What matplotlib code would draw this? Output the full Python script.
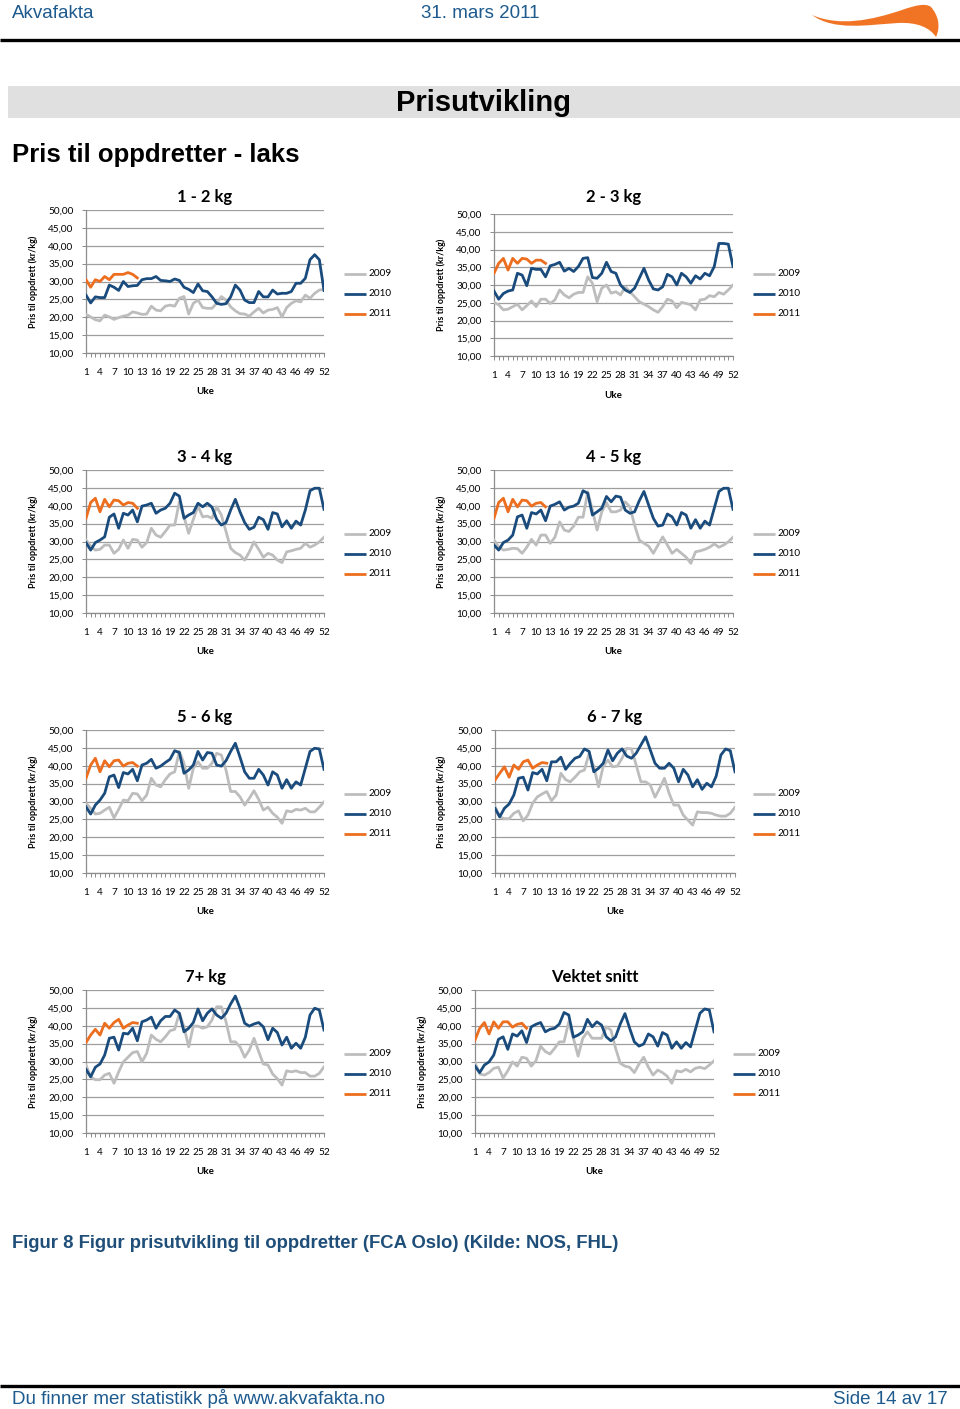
import matplotlib

matplotlib.use("Agg")
import matplotlib.pyplot as plt
import numpy as np
from matplotlib.patches import PathPatch, Rectangle
from matplotlib.path import Path

W, H = 960, 1409

YEARS = ("2009", "2010", "2011")
COLORS = {"2009": "#BDBDBD", "2010": "#1A4B7D", "2011": "#EC6E1E"}
TEXT_BLUE = "#1D5A8E"
CAPTION_BLUE = "#1F4E79"

WEEK_TICKS = list(range(1, 53, 3))
Y_TICKS = [10, 15, 20, 25, 30, 35, 40, 45, 50]

TITLES = ["1 - 2 kg", "2 - 3 kg", "3 - 4 kg", "4 - 5 kg", "5 - 6 kg", "6 - 7 kg", "7+ kg", "Vektet snitt"]

# weekly price to farmer, kr/kg
kg12_2009 = [20.8, 20.1, 19.3, 19.0, 20.6, 20.1, 19.4, 19.9, 20.3, 20.6, 21.5, 21.2, 20.8, 20.9, 23.1, 22.0,
             21.8, 23.1, 23.4, 23.1, 25.3, 25.8, 20.9, 23.9, 24.8, 22.7, 22.5, 22.5, 23.9, 25.8, 24.8, 22.9,
             21.8, 21.0, 20.9, 20.3, 21.5, 22.5, 21.2, 22.0, 22.2, 22.7, 20.1, 22.7, 23.9, 24.6, 24.3, 26.2,
             25.3, 26.7, 27.6, 27.8]
kg12_2010 = [26.2, 24.0, 25.7, 25.5, 25.5, 29.0, 28.4, 27.5, 30.0, 28.6, 28.8, 28.9, 30.5, 30.8, 30.8, 31.4,
             30.3, 30.2, 30.0, 30.7, 30.3, 28.4, 27.8, 26.9, 29.3, 27.4, 27.2, 25.7, 23.9, 23.6, 23.8, 25.7,
             29.0, 27.6, 24.8, 24.1, 24.1, 27.2, 25.7, 25.7, 27.6, 26.5, 26.7, 26.7, 27.2, 29.5, 29.5, 30.9,
             36.1, 37.5, 36.1, 27.5]
kg12_2011 = [30.5, 28.4, 30.5, 30.0, 31.4, 30.5, 32.0, 32.0, 32.0, 32.5, 32.0, 31.0]

kg23_2009 = [25.1, 24.4, 23.0, 23.2, 23.9, 24.6, 23.0, 24.2, 25.5, 23.9, 26.0, 26.0, 24.8, 25.8, 28.6, 27.2,
             26.4, 27.4, 27.9, 27.9, 32.3, 30.5, 25.3, 29.1, 30.0, 27.7, 28.1, 27.2, 29.5, 28.1, 26.7, 25.3,
             24.6, 23.9, 23.0, 22.3, 23.9, 26.0, 25.5, 23.6, 25.1, 24.8, 24.4, 23.0, 25.8, 26.0, 27.0, 26.7,
             27.9, 27.4, 28.6, 30.0]
kg23_2010 = [28.3, 26.0, 27.6, 28.3, 28.6, 33.3, 32.8, 29.8, 34.7, 34.4, 34.4, 32.3, 35.4, 35.8, 36.4, 33.9,
             34.7, 33.8, 35.2, 37.5, 37.7, 32.1, 31.9, 33.3, 36.4, 33.8, 33.3, 30.0, 28.6, 27.9, 29.1, 31.9,
             34.7, 31.4, 28.9, 28.6, 29.5, 33.0, 32.3, 30.0, 33.3, 32.3, 30.5, 32.6, 31.7, 33.3, 32.6, 35.2,
             41.7, 41.7, 41.5, 35.2]
kg23_2011 = [33.3, 36.1, 37.5, 34.2, 37.5, 36.1, 37.5, 37.3, 36.1, 37.0, 37.0, 36.1]

kg34_2009 = [30.4, 28.7, 27.6, 27.8, 29.0, 29.0, 26.7, 27.8, 30.4, 28.1, 30.6, 30.4, 28.4, 29.7, 33.7, 31.8,
             31.2, 32.8, 34.6, 34.6, 41.1, 36.9, 32.3, 36.2, 39.9, 36.9, 37.1, 36.5, 39.7, 37.4, 32.8, 28.1,
             26.9, 26.2, 24.8, 27.1, 29.9, 27.8, 25.6, 26.7, 26.2, 24.8, 24.1, 27.1, 27.4, 27.8, 28.1, 29.5,
             28.4, 29.0, 29.9, 31.2]
kg34_2010 = [29.7, 27.6, 29.7, 30.4, 31.3, 36.8, 37.7, 33.7, 37.9, 37.4, 38.8, 35.5, 39.9, 40.2, 40.7, 37.9,
             38.8, 39.3, 40.7, 43.5, 42.7, 36.5, 37.4, 38.1, 40.7, 39.7, 40.7, 39.6, 36.2, 34.6, 35.3, 38.8,
             41.8, 38.3, 35.3, 33.4, 34.0, 36.8, 36.1, 33.4, 38.1, 37.7, 34.1, 35.8, 33.7, 35.7, 34.6, 38.8,
             44.2, 44.9, 44.9, 39.0]
kg34_2011 = [36.5, 40.9, 42.1, 38.3, 41.8, 39.7, 41.6, 41.4, 40.2, 40.9, 40.7, 39.3]

kg45_2009 = [30.4, 28.5, 27.6, 27.8, 28.1, 28.0, 26.7, 28.4, 30.6, 29.0, 31.8, 31.8, 29.5, 31.2, 35.5, 33.2,
             32.8, 34.3, 36.8, 36.8, 43.9, 38.8, 33.2, 38.3, 40.9, 38.3, 38.3, 38.8, 41.1, 39.7, 34.6, 30.4,
             29.5, 28.7, 26.7, 29.0, 31.3, 29.0, 26.7, 27.8, 26.7, 25.6, 23.9, 27.1, 27.4, 27.8, 28.4, 29.3,
             28.4, 29.0, 29.9, 31.2]
kg45_2010 = [29.0, 27.6, 29.7, 30.4, 31.8, 36.9, 37.4, 33.7, 38.1, 37.7, 38.8, 35.8, 39.9, 40.4, 41.1, 38.8,
             39.6, 39.9, 40.7, 44.2, 43.5, 37.4, 38.3, 39.3, 42.6, 41.1, 42.7, 42.4, 38.8, 37.9, 38.3, 41.4,
             44.0, 40.2, 36.5, 34.3, 34.6, 37.7, 36.9, 34.6, 38.1, 37.4, 33.7, 36.1, 33.7, 35.7, 34.6, 39.3,
             44.0, 44.9, 44.9, 39.0]
kg45_2011 = [36.5, 40.9, 42.1, 38.3, 41.8, 39.7, 41.6, 41.4, 39.9, 40.7, 40.9, 39.7]

kg56_2009 = [29.5, 28.1, 26.5, 26.7, 27.6, 28.4, 25.4, 27.8, 30.4, 30.2, 32.3, 32.1, 30.2, 31.8, 36.5, 34.6,
             34.1, 36.1, 37.7, 38.3, 44.0, 40.7, 33.7, 39.3, 41.1, 39.3, 39.3, 40.7, 43.5, 43.0, 38.8, 32.8,
             32.8, 31.3, 29.0, 30.9, 33.0, 30.6, 27.6, 28.4, 26.7, 25.6, 23.9, 27.4, 27.1, 27.8, 27.6, 28.1,
             27.1, 27.1, 28.4, 29.9]
kg56_2010 = [28.5, 26.5, 29.0, 30.4, 32.3, 36.9, 37.4, 33.9, 38.1, 37.7, 39.0, 35.8, 40.2, 40.7, 41.8, 39.3,
             39.9, 40.9, 41.8, 44.2, 43.7, 37.9, 38.8, 40.2, 44.0, 41.6, 43.7, 43.5, 40.2, 39.9, 41.4, 44.0,
             46.3, 42.4, 38.3, 36.5, 36.5, 39.0, 37.4, 34.6, 38.3, 37.4, 33.7, 36.1, 33.7, 35.5, 34.6, 39.3,
             44.0, 44.9, 44.7, 39.0]
kg56_2011 = [36.5, 40.2, 42.1, 38.3, 41.4, 39.7, 41.4, 41.6, 39.9, 40.7, 40.9, 39.9]

kg67_2009 = [28.6, 25.7, 25.2, 25.2, 26.7, 27.4, 24.6, 26.2, 29.5, 31.3, 32.1, 32.8, 30.2, 31.8, 37.9, 36.1,
             35.5, 36.8, 38.3, 38.8, 43.5, 39.7, 34.1, 39.9, 41.6, 39.7, 39.9, 42.1, 44.9, 44.7, 40.2, 35.5,
             35.5, 34.6, 31.2, 33.7, 36.5, 32.3, 29.0, 29.0, 26.2, 24.8, 23.4, 27.1, 26.9, 26.9, 26.7, 26.2,
             25.9, 25.9, 26.7, 28.4]
kg67_2010 = [28.1, 25.7, 28.1, 29.3, 31.8, 36.5, 36.8, 33.2, 38.1, 37.7, 39.0, 35.8, 41.1, 41.1, 42.4, 39.0,
             40.7, 42.1, 42.6, 44.7, 44.0, 38.3, 39.3, 40.7, 44.4, 41.4, 43.5, 44.7, 42.7, 42.1, 43.5, 45.8,
             48.1, 44.4, 40.7, 39.3, 39.3, 40.7, 39.3, 35.5, 39.0, 37.4, 34.1, 36.1, 33.4, 35.1, 34.1, 37.1,
             43.0, 44.7, 44.2, 38.3]
kg67_2011 = [36.0, 37.9, 39.7, 36.8, 40.2, 39.0, 41.1, 41.6, 39.3, 40.2, 40.9, 40.7]

kg7p_2009 = [29.0, 25.7, 24.9, 24.9, 26.2, 26.7, 23.9, 27.1, 29.9, 31.2, 32.5, 32.8, 29.9, 32.3, 37.4, 36.2,
             35.5, 36.9, 38.6, 39.0, 43.5, 39.7, 34.1, 39.9, 39.9, 39.3, 39.7, 41.6, 45.3, 45.3, 41.1, 35.5,
             35.5, 34.1, 31.2, 33.2, 36.5, 32.8, 29.3, 29.0, 26.5, 25.2, 23.4, 27.4, 27.1, 27.4, 26.9, 26.9,
             25.9, 25.9, 26.7, 28.5]
kg7p_2010 = [27.8, 25.7, 28.4, 29.3, 31.8, 36.5, 36.8, 33.2, 37.9, 37.7, 39.3, 35.8, 41.1, 41.6, 42.4, 39.3,
             41.4, 42.6, 42.6, 44.4, 43.5, 38.3, 39.3, 40.9, 44.7, 41.4, 43.5, 44.7, 43.0, 42.1, 43.5, 46.1,
             48.3, 44.9, 40.7, 39.9, 40.5, 40.9, 39.7, 36.1, 39.3, 38.1, 34.6, 36.8, 33.7, 35.1, 33.7, 36.8,
             43.0, 44.9, 44.4, 38.8]
kg7p_2011 = [35.3, 37.4, 39.0, 37.4, 40.7, 39.3, 40.9, 41.8, 39.3, 40.2, 40.9, 40.7]

snitt_2009 = [29.7, 26.5, 26.2, 26.9, 28.1, 28.4, 25.4, 27.4, 29.9, 28.7, 31.2, 30.9, 28.7, 30.2, 34.3, 32.8,
              32.1, 33.7, 35.5, 35.5, 41.1, 36.5, 31.5, 36.5, 38.3, 36.5, 36.5, 36.5, 39.7, 38.8, 33.7, 29.5,
              28.7, 28.4, 26.9, 29.3, 31.2, 28.4, 26.2, 27.6, 26.9, 25.9, 23.9, 27.4, 27.1, 27.8, 27.1, 28.1,
              28.4, 28.0, 29.0, 30.2]
snitt_2010 = [28.7, 26.9, 29.0, 29.9, 31.8, 36.2, 36.9, 33.4, 37.7, 37.1, 38.6, 35.3, 39.7, 40.4, 40.9, 38.3,
              39.0, 39.3, 40.5, 43.7, 43.0, 36.8, 37.4, 38.3, 41.8, 39.7, 41.1, 40.2, 36.9, 35.8, 36.9, 40.5,
              43.4, 39.3, 35.5, 34.3, 34.9, 37.7, 36.9, 34.3, 38.1, 37.4, 33.7, 35.5, 33.7, 35.3, 34.1, 38.8,
              43.5, 44.7, 44.4, 38.3]
snitt_2011 = [36.0, 39.3, 40.9, 37.7, 41.1, 39.3, 41.1, 41.1, 39.6, 40.4, 40.7, 39.3]

SERIES = [
    (kg12_2009, kg12_2010, kg12_2011),
    (kg23_2009, kg23_2010, kg23_2011),
    (kg34_2009, kg34_2010, kg34_2011),
    (kg45_2009, kg45_2010, kg45_2011),
    (kg56_2009, kg56_2010, kg56_2011),
    (kg67_2009, kg67_2010, kg67_2011),
    (kg7p_2009, kg7p_2010, kg7p_2011),
    (snitt_2009, snitt_2010, snitt_2011),
]

# page layout in pixels: plot box (left, top, right, bottom), y-label x, legend x, legend y, title y, "Uke" y
LAYOUT = [
    ((86, 210, 324, 353), 33, 344, 274, 197, 392),
    ((494, 214, 733, 356), 441, 753, 274, 197, 396),
    ((86, 470, 324, 613), 33, 344, 534, 457, 652),
    ((494, 470, 733, 613), 441, 753, 534, 457, 652),
    ((86, 730, 324, 873), 33, 344, 794, 717, 912),
    ((495, 730, 735, 873), 441, 753, 794, 717, 912),
    ((86, 990, 324, 1133), 33, 344, 1054, 977, 1172),
    ((475, 990, 714, 1133), 422, 733, 1054, 977, 1172),
]

CHART_FONT = ["Lato", "DejaVu Sans"]
PAGE_FONT = ["Liberation Sans", "DejaVu Sans"]


def draw_page(bg):
    bg.text(12, 13, "Akvafakta", color=TEXT_BLUE, fontsize=13.5, family=PAGE_FONT, va="center")
    bg.text(480, 13, "31. mars 2011", color=TEXT_BLUE, fontsize=13.5, family=PAGE_FONT, va="center", ha="center")
    swoosh = Path(
        [(812, 15), (840, 27), (872, 20), (902, 10), (916, 5), (926, 3), (931, 7),
         (938, 15), (941, 26), (936, 37), (930, 28), (918, 22), (898, 23), (866, 25), (834, 31), (812, 15),
         (812, 15)],
        [Path.MOVETO, Path.CURVE4, Path.CURVE4, Path.CURVE4, Path.CURVE4, Path.CURVE4, Path.CURVE4,
         Path.CURVE4, Path.CURVE4, Path.CURVE4, Path.CURVE4, Path.CURVE4, Path.CURVE4, Path.CURVE4,
         Path.CURVE4, Path.CURVE4, Path.CLOSEPOLY],
    )
    bg.add_patch(PathPatch(swoosh, facecolor="#F07424", edgecolor="none"))
    bg.plot([0, 960], [39.5, 39.5], color="black", lw=2.4, solid_capstyle="butt")
    bg.add_patch(Rectangle((8, 86), 952, 32, facecolor="#E0E0E0", edgecolor="none"))
    bg.text(484, 103, "Prisutvikling", fontsize=21, fontweight="bold", family=PAGE_FONT, ha="center", va="center")
    bg.text(12, 155, "Pris til oppdretter - laks", fontsize=18.5, fontweight="bold", family=PAGE_FONT, va="center")
    bg.text(12, 1243, "Figur 8 Figur prisutvikling til oppdretter (FCA Oslo) (Kilde: NOS, FHL)",
            color=CAPTION_BLUE, fontsize=13.3, fontweight="bold", family=PAGE_FONT, va="center")
    bg.plot([0, 960], [1385.5, 1385.5], color="black", lw=2.4, solid_capstyle="butt")
    bg.text(12, 1399, "Du finner mer statistikk på www.akvafakta.no", color=TEXT_BLUE, fontsize=13.5,
            family=PAGE_FONT, va="center")
    bg.text(948, 1399, "Side 14 av 17", color=TEXT_BLUE, fontsize=13.5, family=PAGE_FONT, va="center", ha="right")


def draw_panel(fig, bg, title, series, layout):
    (left, top, right, bottom), ylabel_x, legend_x, legend_y, title_y, uke_y = layout
    axis = fig.add_axes([left / W, 1 - bottom / H, (right - left) / W, (bottom - top) / H], zorder=2)
    axis.set_facecolor("none")
    for year, values in zip(YEARS, series):
        weeks = np.arange(1, len(values) + 1)
        axis.plot(weeks, values, color=COLORS[year], lw=2.0, solid_joinstyle="round", zorder=3)
    axis.set_xlim(1, 52)
    axis.set_ylim(10, 50)
    axis.set_yticks(Y_TICKS, [f"{tick:.2f}".replace(".", ",") for tick in Y_TICKS])
    axis.set_xticks(np.arange(1, 53), [str(w) if w in WEEK_TICKS else "" for w in range(1, 53)])
    axis.grid(axis="y", color="#9E9E9E", lw=0.9)
    axis.set_axisbelow(True)
    for side in ("top", "right"):
        axis.spines[side].set_visible(False)
    for side in ("left", "bottom"):
        axis.spines[side].set_color("#8C8C8C")
        axis.spines[side].set_linewidth(0.9)
    axis.tick_params(axis="both", length=3, width=0.7, color="#8C8C8C", pad=6, labelsize=7.2)
    axis.tick_params(axis="x", pad=8)
    for label in axis.get_xticklabels() + axis.get_yticklabels():
        label.set_family(CHART_FONT)

    center = (left + right) / 2
    bg.text(center, title_y, title, fontsize=12, fontweight="bold", family=CHART_FONT, ha="center", va="center")
    bg.text(center, uke_y, "Uke", fontsize=7, fontweight="bold", family=CHART_FONT, ha="center", va="center")
    bg.text(ylabel_x, (top + bottom) / 2, "Pris til oppdrett (kr/kg)", fontsize=6.5, fontweight="bold",
            family=CHART_FONT, rotation=90, ha="center", va="center")
    for index, year in enumerate(YEARS):
        y = legend_y + 20 * index
        bg.plot([legend_x, legend_x + 22], [y, y], color=COLORS[year], lw=2.0, solid_capstyle="butt")
        bg.text(legend_x + 24, y, year, fontsize=7.2, family=CHART_FONT, va="center")


def main() -> None:
    fig = plt.figure(figsize=(W / 100, H / 100), dpi=100)
    bg = fig.add_axes([0, 0, 1, 1], zorder=0)
    bg.set_xlim(0, W)
    bg.set_ylim(H, 0)
    bg.axis("off")
    draw_page(bg)
    for title, series, layout in zip(TITLES, SERIES, LAYOUT):
        draw_panel(fig, bg, title, series, layout)
    fig.savefig("out.png", dpi=100)
    plt.close(fig)


if __name__ == "__main__":
    main()
